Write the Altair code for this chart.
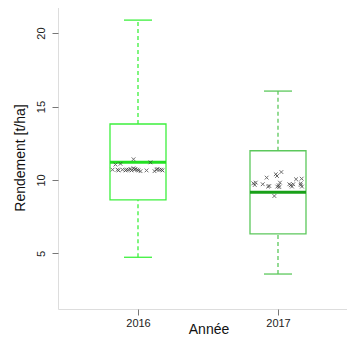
import altair as alt
import pandas as pd

# ---- data ----
years = ["2016", "2017"]
q1 = [8.64, 6.33]
median = [11.2, 9.16]
q3 = [13.81, 11.99]
whisk_lo = [4.74, 3.6]
whisk_hi = [20.88, 16.05]
box_colors = ["#3DF03D", "#5CC85C"]
median_colors = ["#22E022", "#18A018"]

# individual observations (jitter offset, yield)
jit_2016 = [-0.182, -0.161, -0.146, -0.139, -0.125, -0.111, -0.089, -0.082, -0.068, -0.054,
            -0.046, -0.032, -0.032, -0.025, -0.018, -0.004, 0.004, 0.018, 0.061, 0.089,
            0.118, 0.132, 0.139, 0.154, 0.168, 0.175]
val_2016 = [10.7, 11.05, 10.7, 10.65, 11.1, 10.7, 10.65, 10.7, 10.7, 10.75,
            10.65, 11.41, 10.8, 10.7, 10.75, 10.7, 10.65, 10.6, 10.65, 11.2,
            10.6, 10.7, 10.75, 10.7, 10.7, 10.65]
jit_2017 = [-0.176, -0.166, -0.159, -0.109, -0.081, -0.071, -0.062, -0.016, -0.007, 0.024,
            -0.005, 0.005, 0.014, 0.009, -0.026, 0.081, 0.091, 0.1, 0.129, 0.109,
            0.162, 0.169, 0.171, 0.162]
val_2017 = [9.77, 9.66, 9.82, 9.71, 10.16, 9.55, 9.59, 10.39, 10.27, 10.54,
            9.55, 9.64, 9.82, 9.52, 8.91, 9.71, 9.64, 9.55, 10.05, 9.71,
            9.66, 10.09, 9.55, 9.77]

y_ticks = [5, 10, 15, 20]

# ---- tables ----
box_df = pd.DataFrame({
    "year": years,
    "pos": [i + 1 for i in range(len(years))],
    "q1": q1, "med": median, "q3": q3, "lo": whisk_lo, "hi": whisk_hi,
    "col": box_colors, "mcol": median_colors,
})
pts = []
for j, v in zip(jit_2016, val_2016):
    pts.append({"pos": 1 + j, "val": v})
for j, v in zip(jit_2017, val_2017):
    pts.append({"pos": 2 + j, "val": v})
pts_df = pd.DataFrame(pts)

FONT = "Liberation Sans"
xscale = alt.Scale(domain=[0.4286, 2.5786], nice=False, zero=False)
yscale = alt.Scale(domain=[1.22, 21.84], nice=False, zero=False)

label_expr = " : ".join(
    [f"datum.value == {i+1} ? '{y}'" for i, y in enumerate(years)] + ["''"]
)

x_axis = alt.Axis(values=[i + 1 for i in range(len(years))], labelExpr=label_expr,
                  title="Année", grid=False, domain=False, tickColor="#777",
                  tickSize=6, labelFontSize=11, labelColor="#222", labelPadding=2,
                  titleFontSize=14, titleFontWeight="normal", titleColor="#111",
                  titleBaseline="alphabetic", titleY=24,
                  labelFont=FONT, titleFont=FONT)
y_axis = alt.Axis(values=y_ticks, title="Rendement [t/ha]", grid=False, domain=False,
                  tickColor="#777", tickSize=6, labelFontSize=11, labelColor="#222",
                  labelAngle=270, labelAlign="center", labelBaseline="bottom",
                  labelPadding=6, titleFontSize=14, titleFontWeight="normal",
                  titleColor="#111", titlePadding=8, labelFont=FONT, titleFont=FONT)

base = alt.Chart(box_df)

boxes = base.transform_calculate(
    x1="datum.pos - 0.2", x2="datum.pos + 0.2"
).mark_rect(fill=None, strokeWidth=1.3).encode(
    x=alt.X("x1:Q", scale=xscale, axis=x_axis),
    x2="x2:Q",
    y=alt.Y("q1:Q", scale=yscale, axis=y_axis),
    y2="q3:Q",
    stroke=alt.Color("col:N", scale=None),
)

whisk_up = base.mark_rule(strokeDash=[4, 3], strokeWidth=1.3).encode(
    x="pos:Q", y="q3:Q", y2="hi:Q", color=alt.Color("col:N", scale=None))
whisk_dn = base.mark_rule(strokeDash=[4, 3], strokeWidth=1.3).encode(
    x="pos:Q", y="lo:Q", y2="q1:Q", color=alt.Color("col:N", scale=None))

cap_base = base.transform_calculate(c1="datum.pos - 0.1", c2="datum.pos + 0.1")
cap_hi = cap_base.mark_rule(strokeWidth=1.3).encode(
    x="c1:Q", x2="c2:Q", y="hi:Q", color=alt.Color("col:N", scale=None))
cap_lo = cap_base.mark_rule(strokeWidth=1.3).encode(
    x="c1:Q", x2="c2:Q", y="lo:Q", color=alt.Color("col:N", scale=None))

med = base.transform_calculate(x1="datum.pos - 0.2", x2="datum.pos + 0.2").mark_rule(
    strokeWidth=3).encode(
    x="x1:Q", x2="x2:Q", y="med:Q", color=alt.Color("mcol:N", scale=None))

points = alt.Chart(pts_df).mark_point(
    shape="M-1,-1L1,1M1,-1L-1,1", size=14, stroke="#333", strokeWidth=1,
    opacity=0.7, filled=False
).encode(x="pos:Q", y="val:Q")

chart = alt.layer(boxes, whisk_up, whisk_dn, cap_hi, cap_lo, med, points).properties(
    width=301, height=303,
    autosize=alt.AutoSizeParams(type="none"),
    padding={"left": 50, "top": -2, "right": -12, "bottom": 29},
).configure_view(stroke="#777", strokeWidth=1).configure(background="white")

chart.save("out.html", embed_options={"renderer": "svg", "actions": False})
